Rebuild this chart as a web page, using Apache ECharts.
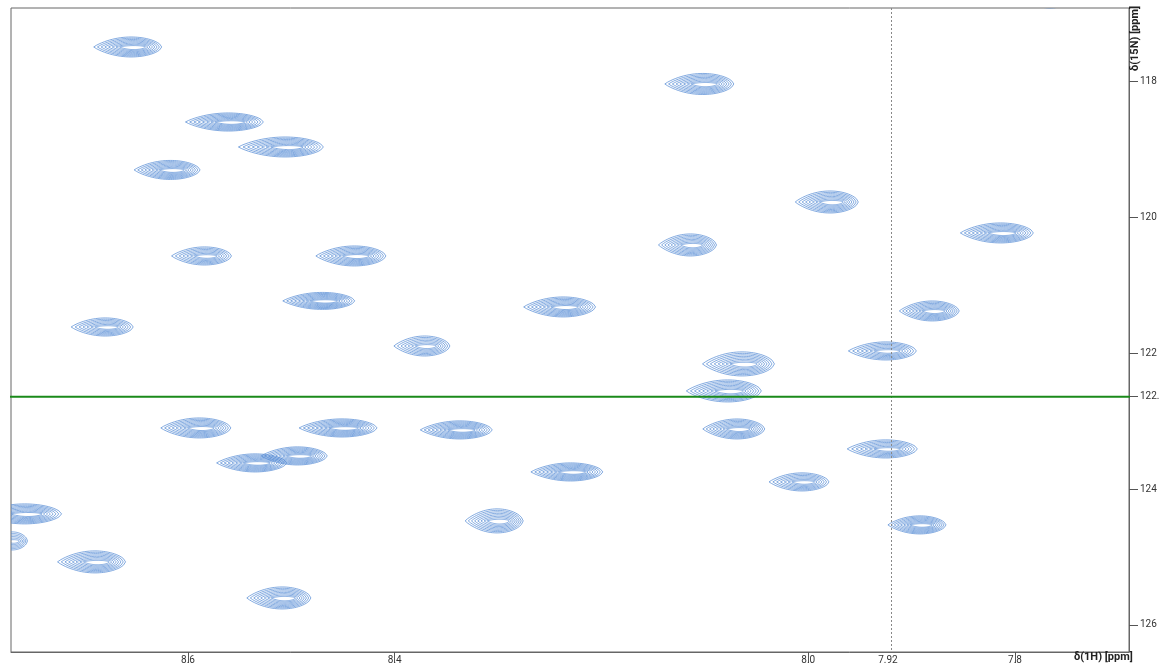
<!DOCTYPE html>
<html>
<head>
<meta charset="utf-8">
<script src="https://cdn.jsdelivr.net/npm/echarts@6/dist/echarts.min.js"></script>
<style>
html,body{margin:0;padding:0;background:#fff;}
#chart{width:1159px;height:665px;}
</style>
</head>
<body>
<div id="chart"></div>
<script>
// Peak centres (1H ppm, 15N ppm), outer-contour half widths (ppm) and number of contour levels
const peakH = [8.655, 8.561, 8.506, 8.617, 8.584, 8.439, 8.470, 8.680, 8.371, 8.237,
               8.102, 8.114, 7.979, 7.814, 7.880, 7.925, 8.064, 8.078, 8.589, 8.451,
               8.337, 8.069, 8.535, 8.494, 8.230, 7.925, 8.006, 8.301, 7.892, 8.758,
               8.770, 8.690, 8.509, 7.766];
const peakN = [117.489, 118.594, 118.962, 119.300, 120.567, 120.567, 121.229, 121.613, 121.893, 121.318,
               118.034, 120.405, 119.772, 120.228, 121.377, 121.966, 122.157, 122.555, 123.100, 123.100,
               123.129, 123.115, 123.615, 123.512, 123.748, 123.409, 123.895, 124.469, 124.528, 124.366,
               124.764, 125.073, 125.604, 116.767];
const halfWidthH = [0.0329, 0.0377, 0.0411, 0.0319, 0.0290, 0.0339, 0.0348, 0.0300, 0.0271, 0.0348,
                    0.0334, 0.0281, 0.0305, 0.0353, 0.0290, 0.0329, 0.0348, 0.0363, 0.0339, 0.0377,
                    0.0348, 0.0300, 0.0339, 0.0319, 0.0348, 0.0339, 0.0290, 0.0281, 0.0281, 0.0397,
                    0.0164, 0.0329, 0.0310, 0.0242];
const halfWidthN = [0.147, 0.133, 0.147, 0.140, 0.133, 0.147, 0.125, 0.133, 0.147, 0.147,
                    0.155, 0.162, 0.162, 0.147, 0.147, 0.133, 0.177, 0.162, 0.147, 0.133,
                    0.133, 0.147, 0.133, 0.133, 0.133, 0.133, 0.133, 0.177, 0.133, 0.147,
                    0.133, 0.162, 0.162, 0.147];
const contourLevels = [8, 8, 8, 8, 7, 8, 8, 7, 7, 8,
                       8, 8, 8, 8, 8, 7, 8, 8, 8, 8,
                       8, 8, 8, 8, 8, 7, 7, 8, 8, 8,
                       6, 8, 8, 5];

// Axes
const hRange = [7.6897, 8.7712];
const nRange = [116.915, 126.40];
const hTicks = [8.6, 8.4, 8.0, 7.8];
const nTicks = [118, 120, 122, 124, 126];
const cursorH = 7.9229;
const cursorN = 122.64;
const cursorLineH = [8.7819, 7.6839];

const peakData = peakH.map((h, i) => [h, peakN[i], halfWidthH[i], halfWidthN[i], contourLevels[i]]);

const contourColor = '#5288d4';

function renderPeak(params, api) {
  const c = api.coord([api.value(0), api.value(1)]);
  const s = api.size([api.value(2), api.value(3)]);
  const a = Math.abs(s[0]), b = Math.abs(s[1]);
  const n = api.value(4);
  const children = [];
  const M = 28;
  for (let k = 0; k < n; k++) {
    const t = n > 1 ? k / (n - 1) : 0;
    const ax = a * (1 - 0.62 * t);
    const top = b * (1 - 0.86 * t);
    const bot = b * (1 - 0.74 * t);
    const dx = a * 0.08 * t;
    const pts = [];
    const pt = (u, h) => {
      const f = Math.pow(Math.max(0, 1 - u * u), u < 0 ? 0.9 : 0.6);
      return [c[0] + dx + u * ax * (u < 0 ? 1.1 : 0.9), c[1] + h * f];
    };
    for (let i = 0; i <= M; i++) pts.push(pt(-1 + 2 * i / M, -top));
    for (let i = M - 1; i > 0; i--) pts.push(pt(-1 + 2 * i / M, bot));
    children.push({
      type: 'polygon',
      shape: { points: pts },
      style: { fill: 'none', stroke: contourColor, lineWidth: 0.75, opacity: 0.95 }
    });
  }
  return { type: 'group', children };
}

const chart = echarts.init(document.getElementById('chart'), null, { renderer: 'canvas' });
const font = 'Roboto, "DejaVu Sans", sans-serif';

chart.setOption({
  animation: false,
  backgroundColor: '#fff',
  grid: {
    left: 11, right: 30, top: 8, bottom: 13,
    containLabel: false, outerBoundsMode: 'none',
    show: true, borderColor: '#666', borderWidth: 1
  },
  xAxis: {
    type: 'value', inverse: true, min: hRange[0], max: hRange[1],
    position: 'bottom',
    splitLine: { show: false },
    axisLine: { show: true, lineStyle: { color: '#666', width: 1 } },
    axisTick: { show: true, customValues: hTicks, length: 11, inside: false, lineStyle: { color: '#555', width: 1 } },
    axisLabel: {
      customValues: hTicks.concat([cursorH]), margin: 3,
      color: '#333', fontSize: 10, fontFamily: font,
      formatter: v => (Math.abs(v - cursorH) < 1e-6 ? '7.92' : v.toFixed(1))
    }
  },
  yAxis: {
    type: 'value', inverse: true, min: nRange[0], max: nRange[1],
    position: 'right',
    splitLine: { show: false },
    axisLine: { show: true, lineStyle: { color: '#666', width: 1 } },
    axisTick: { show: true, customValues: nTicks.concat([cursorN]), length: 9, inside: false, lineStyle: { color: '#555', width: 1 } },
    axisLabel: {
      customValues: nTicks.concat([cursorN]), margin: 11,
      color: '#333', fontSize: 10, fontFamily: font,
      verticalAlign: 'middle', padding: [0, 0, 4, 0],
      formatter: v => (Math.abs(v - cursorN) < 1e-6 ? cursorN.toFixed(2) : String(Math.round(v)))
    }
  },
  graphic: [
    { type: 'text', left: 1074, top: 652, z: 100,
      style: { text: 'δ(1H) [ppm]', font: 'bold 11px ' + font, fill: '#222' } },
    { type: 'text', x: 1135, y: 71, rotation: Math.PI / 2, z: 100,
      style: { text: 'δ(15N) [ppm]', font: 'bold 11px ' + font, fill: '#222', textAlign: 'left', textVerticalAlign: 'middle' } }
  ],
  series: [
    {
      type: 'custom', name: 'peaks', coordinateSystem: 'cartesian2d',
      renderItem: renderPeak, data: peakData, clip: true, silent: true, z: 2
    },
    {
      type: 'line', name: 'cursor', data: [[cursorLineH[0], cursorN], [cursorLineH[1], cursorN]],
      symbol: 'none', clip: false, silent: true, z: 5,
      lineStyle: { color: '#1a8a1a', width: 2 },
      markLine: {
        silent: true, symbol: 'none', label: { show: false },
        lineStyle: { color: '#888', width: 1, type: [2, 2] },
        data: [{ xAxis: cursorH }]
      }
    }
  ]
});
</script>
</body>
</html>
